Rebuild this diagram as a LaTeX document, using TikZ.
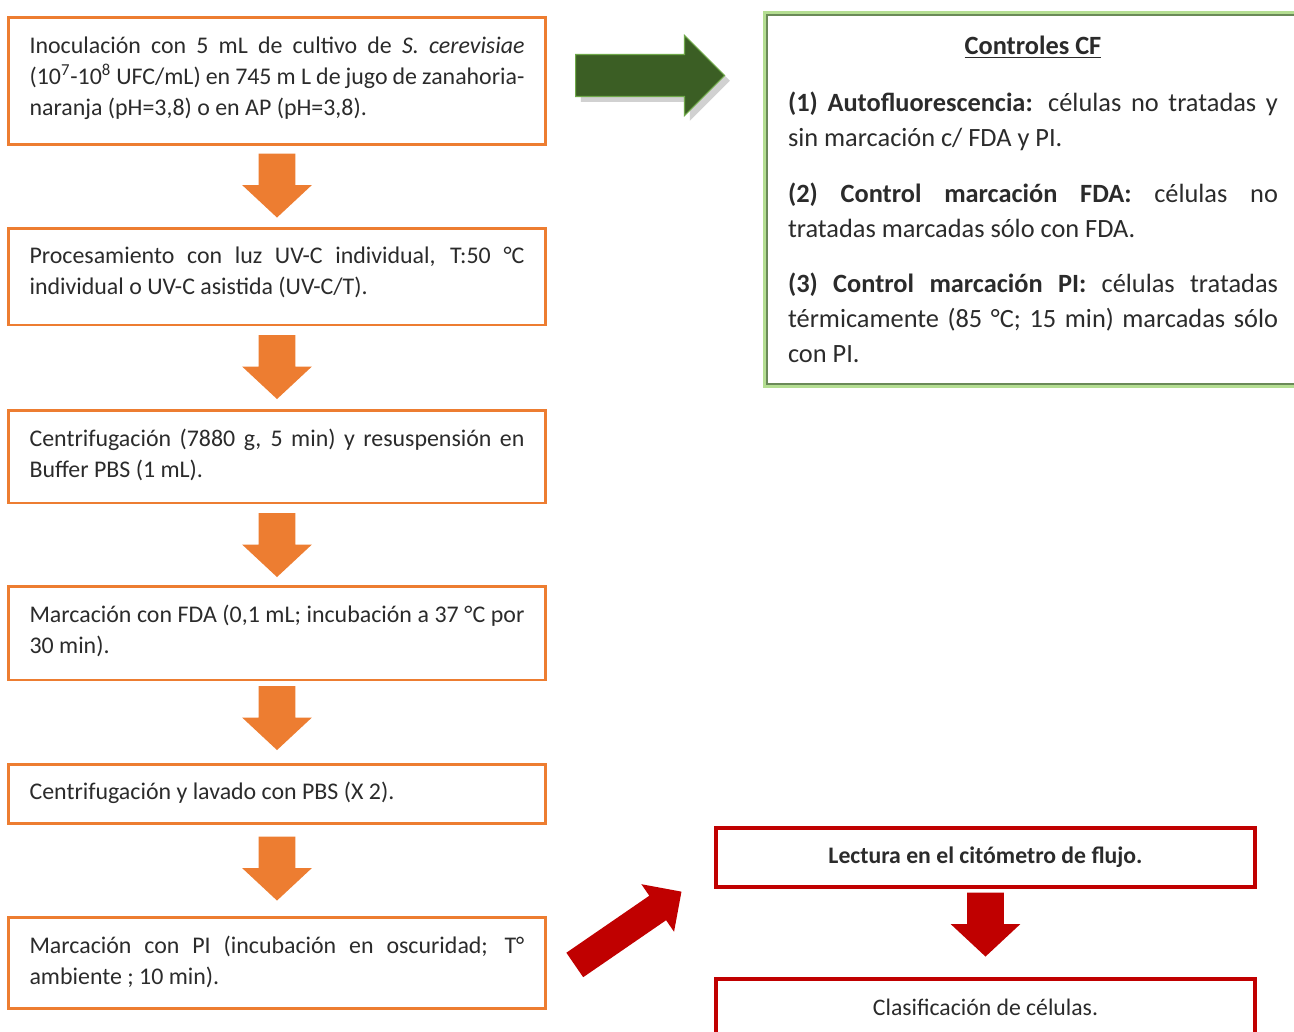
\documentclass[tikz,border=0pt]{standalone}
\usepackage{fontspec}
\setmainfont{Carlito}
\usetikzlibrary{shapes.arrows,calc,shadows}
\definecolor{orng}{HTML}{ED7D31}
\definecolor{redc}{HTML}{C00000}
\definecolor{garrow}{HTML}{3B5E24}
\definecolor{garrowedge}{HTML}{6FA84A}
\definecolor{gglow}{HTML}{B4DE92}
\definecolor{gline}{HTML}{6A8A58}
\definecolor{txt}{HTML}{2B2B2B}
\begin{document}
\begin{tikzpicture}[x=0.02cm,y=-0.02cm,
  obox/.style={draw=orng, line width=1.7pt, rectangle, minimum width=10.76cm,
    text width=9.9cm, align=justify, inner sep=0pt,
    font=\fontsize{13.6pt}{17.6pt}\selectfont, text=txt},
  rbox/.style={draw=redc, line width=2.3pt, rectangle, minimum width=10.78cm,
    inner sep=0pt, font=\fontsize{13.5pt}{17.6pt}\selectfont, text=txt},
  gbox/.style={draw=gline, line width=1.1pt, fill=white,
    preaction={draw=gglow, line width=4.5pt}, rectangle,
    text width=9.8cm, inner xsep=0.42cm, inner ysep=0pt, minimum height=7.38cm,
    align=justify, font=\fontsize{15pt}{19.85pt}\selectfont, text=txt},
  blockarrow/.style={single arrow, inner xsep=0pt, draw=none},
  downarrow/.style={blockarrow, rotate=-90, minimum height=1.28cm,
    inner ysep=0.36cm, minimum width=1.38cm, single arrow head extend=0.33cm,
    single arrow tip angle=94},
]
\useasboundingbox (0,0) rectangle (1294,1031);
\clip (0,0) rectangle (1294,1031);
\fill[white] (0,0) rectangle (1294,1031);

% orange flow
\node (b1) [obox, minimum height=2.56cm] at (277,81) {Inoculación con 5 mL de cultivo de \textit{S. cerevisiae}\linebreak (10\textsuperscript{7}-10\textsuperscript{8} UFC/mL) en 745 \mbox{m L} de jugo de zanahoria-\linebreak naranja (pH=3,8) o en AP (pH=3,8).\par\vspace{3.4pt}};
\node (b2) [obox, minimum height=1.94cm] at (277,276.5) {Procesamiento con luz UV-C individual, T:50 °C\linebreak individual o UV-C asistida (UV-C/T).\par\vspace{4.5pt}};
\node (b3) [obox, minimum height=1.86cm] at (277,456.5) {Centrifugación (7880 g, 5 min) y resuspensión en\linebreak Buffer PBS (1 mL).\par\vspace{1.7pt}};
\node (b4) [obox, minimum height=1.88cm] at (277,633) {Marcación con FDA (0,1 mL; incubación a 37 °C por\linebreak 30 min).\par\vspace{2.8pt}};
\node (b5) [obox, minimum height=1.18cm] at (277,793.5) {Centrifugación y lavado con PBS (X 2).\par\vspace{1.1pt}};
\node (b6) [obox, minimum height=1.82cm] at (277,962.5) {Marcación con PI (incubación en oscuridad; T°\linebreak ambiente ; 10 min).\par\vspace{0.5pt}};

% (the arrow is rotated, so its own x axis points down the page)
\node (a1) [downarrow, fill=orng, xshift=-0.19cm] at ($(b1.south)!0.5!(b2.north)$) {};
\node (a2) [downarrow, fill=orng, xshift=-0.18cm] at ($(b2.south)!0.5!(b3.north)$) {};
\node (a3) [downarrow, fill=orng, xshift=-0.16cm] at ($(b3.south)!0.5!(b4.north)$) {};
\node (a4) [downarrow, fill=orng, xshift=-0.25cm] at ($(b4.south)!0.5!(b5.north)$) {};
\node (a5) [downarrow, fill=orng, xshift=-0.2cm] at ($(b5.south)!0.5!(b6.north)$) {};

% controls box
\node (ctrl) [gbox] at (1033,199.5) {{\centering\bfseries\underline{Controles CF}\par}\vspace{12.5pt}
\textbf{(1) Autofluorescencia:} células no tratadas y\linebreak sin marcación c/ FDA y PI.\par\vspace{11.9pt}
\textbf{(2) Control marcación FDA:} células no\linebreak tratadas marcadas sólo con FDA.\par\vspace{11.9pt}
\textbf{(3) Control marcación PI:} células tratadas\linebreak térmicamente (85 °C; 15 min) marcadas sólo\linebreak con PI.};

\node (ga) [blockarrow, fill=garrow, draw=garrowedge, line width=0.6pt,
  minimum height=2.98cm, inner ysep=0.41cm, minimum width=1.58cm,
  single arrow head extend=0.38cm, single arrow tip angle=90,
  drop shadow={shadow xshift=3pt, shadow yshift=-3pt, opacity=0.18, fill=black}] at (639.5,75.5) {};

% red part
\node (r1) [rbox, minimum height=1.18cm] at (985.5,857.5) {\bfseries Lectura en el citómetro de flujo.};
\node (r2) [rbox, minimum height=1.12cm] at (985.5,1007) {Clasificación de células.};
\node (ra) [downarrow, fill=redc, xshift=-0.34cm] at ($(r1.south)!0.5!(r2.north)$) {};
\node (rd) [blockarrow, fill=redc, rotate=34.5, minimum height=2.59cm,
  inner ysep=0.29cm, minimum width=1.14cm, single arrow head extend=0.28cm,
  single arrow tip angle=90] at (622,932.5) {};
\end{tikzpicture}
\end{document}
